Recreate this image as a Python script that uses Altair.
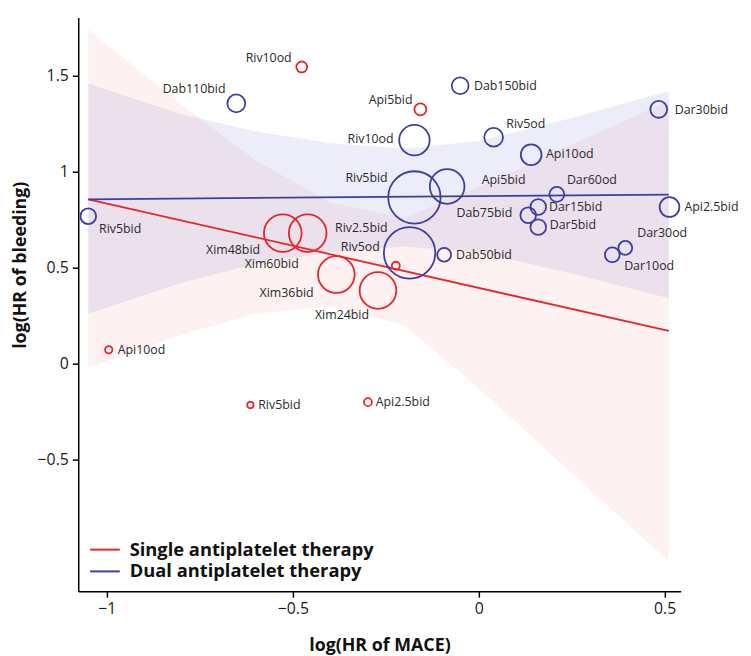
import altair as alt
import pandas as pd

# ---------------- data ----------------
SINGLE = "Single antiplatelet therapy"
DUAL = "Dual antiplatelet therapy"

single_names = ["Riv10od", "Api5bid", "Xim48bid", "Xim60bid", "Xim36bid",
                "Xim24bid", "Riv5od", "Api10od", "Riv5bid", "Api2.5bid"]
single_mace = [-0.476, -0.157, -0.527, -0.460, -0.383, -0.271, -0.223, -0.995, -0.614, -0.298]
single_bleed = [1.546, 1.325, 0.680, 0.680, 0.464, 0.381, 0.510, 0.072, -0.216, -0.201]
single_weight = [4.8, 5.8, 58, 58, 55, 55, 2.6, 2.2, 1.7, 2.6]
single_lab_x = [-0.503, -0.178, -0.588, -0.484, -0.444, -0.295, -0.266, -0.971, -0.593, -0.277]
single_lab_y = [1.593, 1.371, 0.593, 0.521, 0.366, 0.253, 0.608, 0.072, -0.216, -0.201]
single_lab_side = ["R", "R", "R", "R", "R", "R", "R", "L", "L", "L"]

dual_names = ["Dab110bid", "Riv5bid", "Dab150bid", "Dar30bid", "Riv10od", "Riv5od",
              "Api10od", "Riv5bid", "Api5bid", "Dar60od", "Dar15bid", "Dab75bid",
              "Dar5bid", "Api2.5bid", "Dar30od", "Dar10od", "Dab50bid", "Riv2.5bid"]
dual_mace = [-0.652, -1.050, -0.050, 0.484, -0.173, 0.040, 0.141, -0.173, -0.085,
             0.210, 0.160, 0.133, 0.160, 0.513, 0.394, 0.359, -0.093, -0.186]
dual_bleed = [1.356, 0.768, 1.448, 1.325, 1.165, 1.180, 1.088, 0.866, 0.923,
              0.882, 0.816, 0.773, 0.711, 0.816, 0.603, 0.567, 0.567, 0.577]
dual_weight = [13, 10, 11.6, 11.6, 38, 14.4, 17.6, 112, 49, 9, 10, 10, 10, 16, 7.8, 9, 7.8, 108]
dual_lab_x = [-0.681, -1.021, -0.013, 0.527, -0.229, 0.074, 0.181, -0.245, 0.008,
              0.237, 0.189, 0.090, 0.191, 0.553, 0.426, 0.391, -0.061, -0.245]
dual_lab_y = [1.433, 0.701, 1.448, 1.320, 1.170, 1.247, 1.093, 0.969, 0.954,
              0.954, 0.814, 0.784, 0.722, 0.814, 0.680, 0.510, 0.567, 0.706]
dual_lab_side = ["R", "L", "L", "L", "R", "L", "L", "R", "L",
                 "L", "L", "R", "L", "L", "L", "L", "L", "R"]

# regression lines (end points)
fit_x = [-1.05, 0.511]
fit_single = [0.856, 0.170]
fit_dual = [0.856, 0.881]

# confidence bands
band_x = [-1.05, -0.8, -0.6, -0.4, -0.2, 0.0, 0.25, 0.511]
band_single_lo = [-0.02, 0.15, 0.26, 0.30, 0.20, -0.13, -0.57, -1.03]
band_single_hi = [1.74, 1.35, 1.06, 0.84, 0.76, 0.92, 1.14, 1.37]
band_dual_lo = [0.26, 0.42, 0.52, 0.58, 0.61, 0.58, 0.47, 0.34]
band_dual_hi = [1.46, 1.30, 1.21, 1.15, 1.12, 1.16, 1.28, 1.42]

x_ticks = [-1, -0.5, 0, 0.5]
y_ticks = [-0.5, 0, 0.5, 1, 1.5]

# ---------------- tables ----------------
pts = pd.concat([
    pd.DataFrame({"name": single_names, "mace": single_mace, "bleed": single_bleed,
                  "weight": single_weight, "lx": single_lab_x, "ly": single_lab_y,
                  "side": single_lab_side, "group": SINGLE}),
    pd.DataFrame({"name": dual_names, "mace": dual_mace, "bleed": dual_bleed,
                  "weight": dual_weight, "lx": dual_lab_x, "ly": dual_lab_y,
                  "side": dual_lab_side, "group": DUAL}),
], ignore_index=True)

lines = pd.concat([
    pd.DataFrame({"mace": fit_x, "bleed": fit_single, "group": SINGLE}),
    pd.DataFrame({"mace": fit_x, "bleed": fit_dual, "group": DUAL}),
], ignore_index=True)

bands = pd.DataFrame({"mace": band_x, "s_lo": band_single_lo, "s_hi": band_single_hi,
                      "d_lo": band_dual_lo, "d_hi": band_dual_hi})

RED = "#e5262b"
BLUE = "#3c3f9e"
color_scale = alt.Scale(domain=[SINGLE, DUAL], range=[RED, BLUE])

xs = alt.Scale(domain=[-1.077, 0.543], nice=False, zero=False)
ys = alt.Scale(domain=[-1.186, 1.804], nice=False, zero=False)

x_axis = alt.Axis(values=x_ticks, format="~f", title="log(HR of MACE)",
                  titleBaseline="middle", titleY=55)
y_axis = alt.Axis(values=y_ticks, format="~f", title="log(HR of bleeding)",
                  titleBaseline="middle", titleX=-58, titleY=250)


def X(field):
    return alt.X(f"{field}:Q", scale=xs, axis=x_axis)


def Y(field):
    return alt.Y(f"{field}:Q", scale=ys, axis=y_axis)


band_s = alt.Chart(bands).mark_area(color="#f08a8a", opacity=0.12).encode(
    x=X("mace"), y=Y("s_lo"), y2="s_hi:Q")
band_d = alt.Chart(bands).mark_area(color="#7d7fd6", opacity=0.14).encode(
    x=X("mace"), y=Y("d_lo"), y2="d_hi:Q")

fit = alt.Chart(lines).mark_line(strokeWidth=1.8).encode(
    x=X("mace"), y=Y("bleed"),
    color=alt.Color("group:N", scale=color_scale, sort=[SINGLE, DUAL],
                    legend=alt.Legend(title=None, orient="none", legendX=16, legendY=527,
                                      symbolType="M-1.5,0L1.5,0", symbolSize=400,
                                      symbolStrokeWidth=2, labelOffset=14,
                                      labelFontSize=18.5, labelFontWeight="bold",
                                      labelColor="#111", labelFont="Open Sans",
                                      labelLimit=0, rowPadding=1, padding=0)),
    detail="group:N")

circles = alt.Chart(pts).mark_point(shape="circle", filled=False, strokeWidth=1.8,
                                    opacity=1).encode(
    x=X("mace"), y=Y("bleed"),
    stroke=alt.Stroke("group:N", scale=color_scale, legend=None),
    size=alt.Size("weight:Q", scale=alt.Scale(type="linear", domain=[0, 200],
                                              range=[0, 5000]), legend=None))

lab_r = alt.Chart(pts).transform_filter(alt.datum.side == "R").mark_text(
    align="right", baseline="middle", fontSize=12.5, font="Open Sans", color="#2a2a2a").encode(
    x=X("lx"), y=Y("ly"), text="name:N")
lab_l = alt.Chart(pts).transform_filter(alt.datum.side == "L").mark_text(
    align="left", baseline="middle", fontSize=12.5, font="Open Sans", color="#2a2a2a").encode(
    x=X("lx"), y=Y("ly"), text="name:N")

chart = alt.layer(band_s, band_d, fit, circles, lab_r, lab_l).properties(
    width=609, height=580,
    autosize=alt.AutoSizeParams(type="none"),
    padding={"left": 71, "top": 6, "right": 63, "bottom": 62},
    background="white",
).configure_view(stroke=None).configure_axis(
    grid=False, domainColor="black", domainWidth=1.5, tickColor="black", tickWidth=1.5,
    tickSize=6, labelFontSize=16, labelFont="Open Sans", labelColor="#1a1a1a",
    labelPadding=4, titleFont="Open Sans", titleFontSize=18, titleFontWeight="bold",
    titleColor="#111",
)

chart.save("out.html", embed_options={"renderer": "svg", "actions": False})
